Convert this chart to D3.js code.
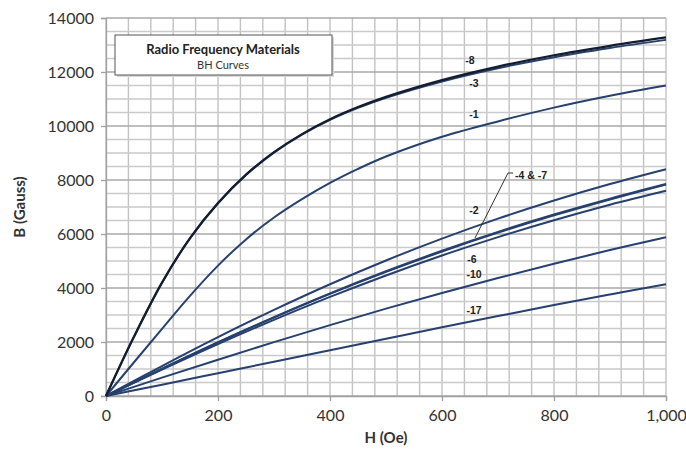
<!DOCTYPE html>
<html><head><meta charset="utf-8">
<script src="https://cdn.jsdelivr.net/npm/d3@7"></script>
<style>body{margin:0;background:#fff}svg{display:block}</style>
</head><body>
<svg id="c" width="686" height="452"></svg>
<script>
// H values for the steep curves and for the near-linear bundle
const hFine   = [0, 50, 100, 150, 200, 250, 300, 350, 400, 450, 500, 600, 700, 800, 900, 1000];
const hCoarse = [0, 100, 200, 300, 400, 500, 600, 700, 800, 900, 1000];
const s8  = [0, 2200, 4200, 5850, 7150, 8200, 9030, 9700, 10250, 10700, 11080, 11700, 12200, 12620, 12970, 13280];
const s3  = [0, 2190, 4190, 5840, 7140, 8185, 9015, 9680, 10225, 10670, 11045, 11650, 12140, 12550, 12890, 13190];
const s1  = [0, 1250, 2490, 3710, 4830, 5800, 6610, 7290, 7890, 8410, 8870, 9600, 10170, 10680, 11120, 11500];
const s2  = [0, 1110, 2180, 3190, 4140, 5020, 5830, 6570, 7240, 7850, 8400];
const s4  = [0, 1010, 1990, 2920, 3800, 4620, 5380, 6080, 6720, 7310, 7850];
const s7  = [0, 1005, 1980, 2905, 3780, 4595, 5350, 6050, 6690, 7280, 7830];
const s6  = [0, 975, 1920, 2820, 3670, 4465, 5205, 5885, 6510, 7085, 7600];
const s10 = [0, 680, 1345, 1995, 2625, 3235, 3815, 4370, 4900, 5405, 5880];
const s17 = [0, 420, 845, 1270, 1695, 2120, 2545, 2960, 3370, 3760, 4140];
const series = [
  {name: "-17", h: hCoarse, v: s17},
  {name: "-10", h: hCoarse, v: s10},
  {name: "-6",  h: hCoarse, v: s6},
  {name: "-7",  h: hCoarse, v: s7},
  {name: "-4",  h: hCoarse, v: s4},
  {name: "-2",  h: hCoarse, v: s2},
  {name: "-1",  h: hFine,   v: s1},
  {name: "-3",  h: hFine,   v: s3},
  {name: "-8",  h: hFine,   v: s8}
];
const xTicks = [0, 200, 400, 600, 800, 1000];
const yTicks = [0, 2000, 4000, 6000, 8000, 10000, 12000, 14000];
const curveLabels = ["-8", "-3", "-1", "-2", "-6", "-10", "-17"];
const comboLabel = "-4 & -7";
const title = "Radio Frequency Materials";
const subtitle = "BH Curves";

const svg = d3.select("#c");
const L = 106, R = 666, T = 18, B = 396;
const x = d3.scaleLinear().domain([0, 1000]).range([L, R]);
const y = d3.scaleLinear().domain([0, 14000]).range([B, T]);

// grid
const g = svg.append("g");
g.selectAll(".vx").data(d3.range(0, 1001, 40)).enter().append("line")
  .attr("x1", d => x(d)).attr("x2", d => x(d)).attr("y1", T).attr("y2", B)
  .attr("stroke", "#c2c2c2").attr("stroke-width", 1.4);
g.selectAll(".hy").data(d3.range(0, 14001, 500)).enter().append("line")
  .attr("y1", d => y(d)).attr("y2", d => y(d)).attr("x1", L).attr("x2", R)
  .attr("stroke", d => d % 2000 === 0 ? "#a8a8a8" : "#cacaca").attr("stroke-width", 1.4);

// axes
const font = "Lato, 'Open Sans', sans-serif";
const xa = svg.append("g").attr("transform", `translate(0,${B})`)
  .call(d3.axisBottom(x).tickValues(xTicks).tickFormat(d3.format(",")).tickSize(5).tickPadding(6));
const ya = svg.append("g").attr("transform", `translate(${L},0)`)
  .call(d3.axisLeft(y).tickValues(yTicks).tickFormat(d => d).tickSize(5).tickPadding(7));
[xa, ya].forEach(a => {
  a.select(".domain").attr("stroke", "#a0a0a0").attr("stroke-width", 1.3);
  a.selectAll(".tick line").attr("stroke", "#a0a0a0").attr("stroke-width", 1.3);
  a.selectAll("text").attr("font-family", font).attr("font-size", 16).attr("fill", "#333");
});
xa.selectAll("text").attr("dy", "0.9em");

svg.append("text").attr("x", (L + R) / 2).attr("y", 443).attr("text-anchor", "middle")
  .attr("font-family", font).attr("font-weight", "bold").attr("font-size", 15).attr("fill", "#333")
  .text("H (Oe)");
svg.append("text").attr("transform", `translate(25,${(T + B) / 2}) rotate(-90)`).attr("text-anchor", "middle")
  .attr("font-family", font).attr("font-weight", "bold").attr("font-size", 15).attr("fill", "#333")
  .text("B (Gauss)");

// lines
const line = d3.line().curve(d3.curveCatmullRom.alpha(0.5));
svg.selectAll(".s").data(series).enter().append("path")
  .attr("d", s => line(s.v.map((b, i) => [x(s.h[i]), y(b)]))).attr("fill", "none")
  .attr("stroke", s => s.name === "-8" ? "#141c2e" : "#27406e")
  .attr("stroke-width", s => s.name === "-8" ? 2.2 : 2);

// curve labels
const lf = "'Liberation Sans', Arial, sans-serif";
const labPos = {"-8": [470, 64], "-3": [474, 87], "-1": [474, 118], "-2": [474, 214], "-6": [472, 263], "-10": [474, 278], "-17": [474, 314]};
curveLabels.forEach(n => {
  svg.append("text").attr("x", labPos[n][0]).attr("y", labPos[n][1]).attr("text-anchor", "middle")
    .attr("font-family", lf).attr("font-weight", "bold").attr("font-size", 10.5).attr("fill", "#222").text(n);
});
svg.append("path").attr("d", "M475,238 L508,173 L513,173").attr("fill", "none").attr("stroke", "#333").attr("stroke-width", 1);
svg.append("text").attr("x", 515).attr("y", 179).attr("font-family", lf).attr("font-weight", "bold")
  .attr("font-size", 10.5).attr("fill", "#222").text(comboLabel);

// title box
svg.append("rect").attr("x", 117).attr("y", 37).attr("width", 217).attr("height", 40).attr("fill", "#d8d8d8");
svg.append("rect").attr("x", 115).attr("y", 35).attr("width", 217).attr("height", 40)
  .attr("fill", "#fff").attr("stroke", "#555").attr("stroke-width", 1);
svg.append("text").attr("x", 223).attr("y", 54).attr("text-anchor", "middle").attr("font-family", "Lato, sans-serif")
  .attr("font-weight", "bold").attr("font-size", 13).attr("fill", "#222").text(title);
svg.append("text").attr("x", 223).attr("y", 69).attr("text-anchor", "middle").attr("font-family", "Lato, sans-serif")
  .attr("font-size", 11).attr("fill", "#333").text(subtitle);
</script>
</body></html>
